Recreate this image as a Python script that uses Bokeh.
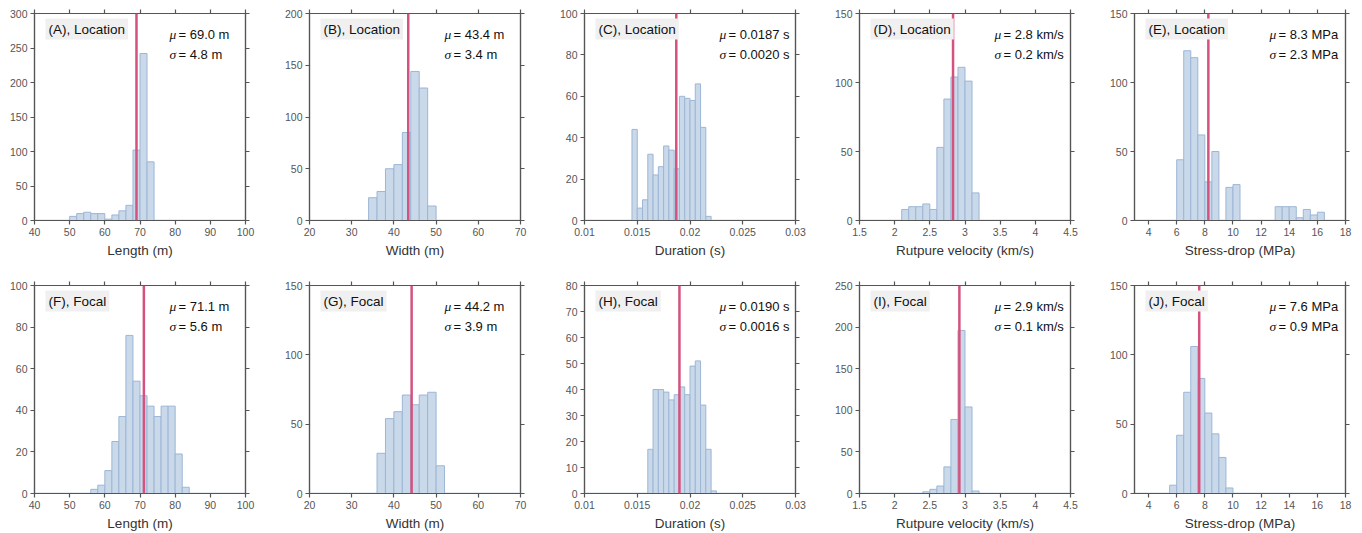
from bokeh.plotting import figure
from bokeh.layouts import gridplot
from bokeh.models import Span, Label, FixedTicker, LinearAxis, Range1d, CustomJSTickFormatter
from bokeh.embed import file_html
from bokeh.resources import INLINE

# ---------------- data ----------------
length_loc_left = [50, 52, 54, 56, 58, 60, 62, 64, 66, 68, 70, 72]
length_loc_counts = [6, 10, 12, 10, 10, 2, 8, 14, 22, 102, 242, 85]
width_loc_left = [34, 36, 38, 40, 42, 44, 46, 48]
width_loc_counts = [22, 28, 50, 54, 85, 144, 128, 14]
dur_loc_left = [0.0145, 0.0150, 0.0155, 0.0160, 0.0165, 0.0170, 0.0175, 0.0180,
                0.0185, 0.0190, 0.0195, 0.0200, 0.0205, 0.0210, 0.0215]
dur_loc_counts = [44, 6, 10, 32, 22, 26, 36, 34, 25, 60, 59, 58, 66, 45, 2]
vel_loc_left = [2.1, 2.2, 2.3, 2.4, 2.5, 2.6, 2.7, 2.8, 2.9, 3.0, 3.1]
vel_loc_counts = [8, 10, 10, 12, 8, 53, 88, 104, 111, 101, 20]
sd_loc_left = [6.0, 6.5, 7.0, 7.5, 8.0, 8.5, 9.0, 9.5, 10.0, 10.5, 11.0, 11.5, 12.0,
               12.5, 13.0, 13.5, 14.0, 14.5, 15.0, 15.5, 16.0]
sd_loc_counts = [44, 123, 118, 62, 28, 50, 0, 24, 26, 0, 0, 0, 0, 0, 10, 10, 10, 2, 8, 4, 6]

length_foc_left = [56, 58, 60, 62, 64, 66, 68, 70, 72, 74, 76, 78, 80, 82]
length_foc_counts = [2, 4, 11, 25, 37, 76, 54, 47, 42, 37, 42, 42, 19, 3]
width_foc_left = [36, 38, 40, 42, 44, 46, 48, 50]
width_foc_counts = [29, 54, 59, 71, 64, 71, 73, 20]
dur_foc_left = [0.0160, 0.0165, 0.0170, 0.0175, 0.0180, 0.0185, 0.0190, 0.0195,
                0.0200, 0.0205, 0.0210, 0.0215, 0.0220]
dur_foc_counts = [17, 40, 40, 39, 36, 38, 41, 38, 49, 51, 34, 17, 1]
vel_foc_left = [2.4, 2.5, 2.6, 2.7, 2.8, 2.9, 3.0, 3.1]
vel_foc_counts = [2, 5, 9, 32, 89, 196, 104, 3]
sd_foc_left = [5.5, 6.0, 6.5, 7.0, 7.5, 8.0, 8.5, 9.0, 9.5]
sd_foc_counts = [6, 42, 73, 106, 83, 58, 43, 26, 4]

bin_widths = [2, 2, 0.0005, 0.1, 0.5, 2, 2, 0.0005, 0.1, 0.5]
mean_values = [69.0, 43.4, 0.0187, 2.83, 8.25, 71.1, 44.2, 0.0190, 2.92, 7.6]
mu_texts = ["= 69.0 m", "= 43.4 m", "= 0.0187 s", "= 2.8 km/s", "= 8.3 MPa",
            "= 71.1 m", "= 44.2 m", "= 0.0190 s", "= 2.9 km/s", "= 7.6 MPa"]
sigma_texts = ["= 4.8 m", "= 3.4 m", "= 0.0020 s", "= 0.2 km/s", "= 2.3 MPa",
               "= 5.6 m", "= 3.9 m", "= 0.0016 s", "= 0.1 km/s", "= 0.9 MPa"]
panel_tags = ["(A), Location", "(B), Location", "(C), Location", "(D), Location", "(E), Location",
              "(F), Focal", "(G), Focal", "(H), Focal", "(I), Focal", "(J), Focal"]
x_labels = ["Length (m)", "Width (m)", "Duration (s)", "Rutpure velocity (km/s)", "Stress-drop (MPa)"]
x_ranges = [(40, 100), (20, 70), (0.01, 0.03), (1.5, 4.5), (3, 18)]
x_ticks = [[40, 50, 60, 70, 80, 90, 100], [20, 30, 40, 50, 60, 70],
           [0.01, 0.015, 0.02, 0.025, 0.03], [1.5, 2, 2.5, 3, 3.5, 4, 4.5],
           [4, 6, 8, 10, 12, 14, 16, 18]]
y_maxes = [300, 200, 100, 150, 150, 100, 150, 80, 250, 150]
y_steps = [50, 50, 20, 50, 50, 20, 50, 10, 50, 50]

lefts = [length_loc_left, width_loc_left, dur_loc_left, vel_loc_left, sd_loc_left,
         length_foc_left, width_foc_left, dur_foc_left, vel_foc_left, sd_foc_left]
counts = [length_loc_counts, width_loc_counts, dur_loc_counts, vel_loc_counts, sd_loc_counts,
          length_foc_counts, width_foc_counts, dur_foc_counts, vel_foc_counts, sd_foc_counts]

# ---------------- style ----------------
FONT = "Liberation Sans"
AX = "#555555"
BAR_FILL = "#c9d9e9"
BAR_LINE = "#9db6d6"
MEAN_COL = "#d4527f"
FRAME_W = 211
FRAME_H = [207, 208]
COL_W = [275, 275, 275, 275, 256]
ROW_H = [272, 261]
ROW_BOTTOM = [52, 40]
BORDER_LEFT = 34
BORDER_TOP = 13

fmt = CustomJSTickFormatter(code="return tick.toString();")


def style_axis(ax, ticks, labels=True):
    ax.ticker = FixedTicker(ticks=ticks)
    ax.axis_line_color = AX
    ax.axis_line_width = 1.2
    ax.major_tick_line_color = AX
    ax.major_tick_line_width = 1.2
    ax.major_tick_out = 4
    ax.major_tick_in = 0
    ax.minor_tick_line_color = None
    if labels:
        ax.major_label_text_font = FONT
        ax.major_label_text_font_size = "10.5px"
        ax.major_label_text_color = AX
        ax.major_label_standoff = 3
        ax.formatter = fmt
    else:
        ax.major_label_text_font_size = "0px"
        ax.major_label_text_color = None
        ax.major_label_standoff = 0


def make_panel(i):
    row, col = divmod(i, 5)
    xr = x_ranges[col]
    ymax = y_maxes[i]
    dx = xr[1] - xr[0]
    w = COL_W[col]
    h = ROW_H[row]
    fh = FRAME_H[row]
    p = figure(width=w, height=h, x_range=Range1d(*xr), y_range=Range1d(0, ymax),
               output_backend="svg", toolbar_location=None,
               min_border_left=BORDER_LEFT, min_border_right=w - BORDER_LEFT - FRAME_W,
               min_border_top=BORDER_TOP, min_border_bottom=ROW_BOTTOM[row])
    p.grid.visible = False
    p.outline_line_color = AX
    p.outline_line_width = 1.2
    p.background_fill_color = "white"
    p.border_fill_color = "white"

    yt = list(range(0, ymax + 1, y_steps[i]))
    style_axis(p.xaxis[0], x_ticks[col])
    style_axis(p.yaxis[0], yt)
    p.xaxis[0].axis_label = x_labels[col]
    p.xaxis[0].axis_label_text_font = FONT
    p.xaxis[0].axis_label_text_font_size = "13.5px"
    p.xaxis[0].axis_label_text_font_style = "normal"
    p.xaxis[0].axis_label_text_color = "#333333"
    p.xaxis[0].axis_label_standoff = 4

    top_ax = LinearAxis()
    style_axis(top_ax, x_ticks[col], labels=False)
    p.add_layout(top_ax, "above")
    right_ax = LinearAxis()
    style_axis(right_ax, yt, labels=False)
    p.add_layout(right_ax, "right")

    bw = bin_widths[i]
    rights = [l + bw for l in lefts[i]]
    # zero-count bins along the whole range
    p.segment(x0=xr[0], y0=0, x1=xr[1], y1=0, line_color=BAR_LINE, line_width=1.5)
    p.quad(left=lefts[i], right=rights, bottom=0, top=counts[i],
           fill_color=BAR_FILL, line_color=BAR_LINE, line_width=1)

    p.add_layout(Span(location=mean_values[i], dimension="height",
                      line_color=MEAN_COL, line_width=2.5))

    def fx(px):
        return xr[0] + px / FRAME_W * dx

    def fy(px):
        return ymax - px / fh * ymax

    p.add_layout(Label(x=fx(11), y=fy(15.5), text=panel_tags[i], text_font=FONT,
                       text_font_size="13.5px", text_color="#111111", text_baseline="middle",
                       background_fill_color="#f0f0f0", padding=3))
    for k, (sym, txt) in enumerate([("\u03bc", mu_texts[i]), ("\u03c3", sigma_texts[i])]):
        yy = fy(21 + 20 * k)
        p.add_layout(Label(x=fx(135), y=yy, text=sym, text_font="Liberation Serif",
                           text_font_style="italic", text_font_size="13.5px",
                           text_color="#111111", text_baseline="middle"))
        p.add_layout(Label(x=fx(144), y=yy, text=txt, text_font=FONT,
                           text_font_size="13px", text_color="#111111",
                           text_baseline="middle"))
    return p


figs = [make_panel(i) for i in range(10)]
grid = gridplot([figs[:5], figs[5:]], toolbar_location=None)

open("out.html", "w").write(file_html(grid, INLINE))
